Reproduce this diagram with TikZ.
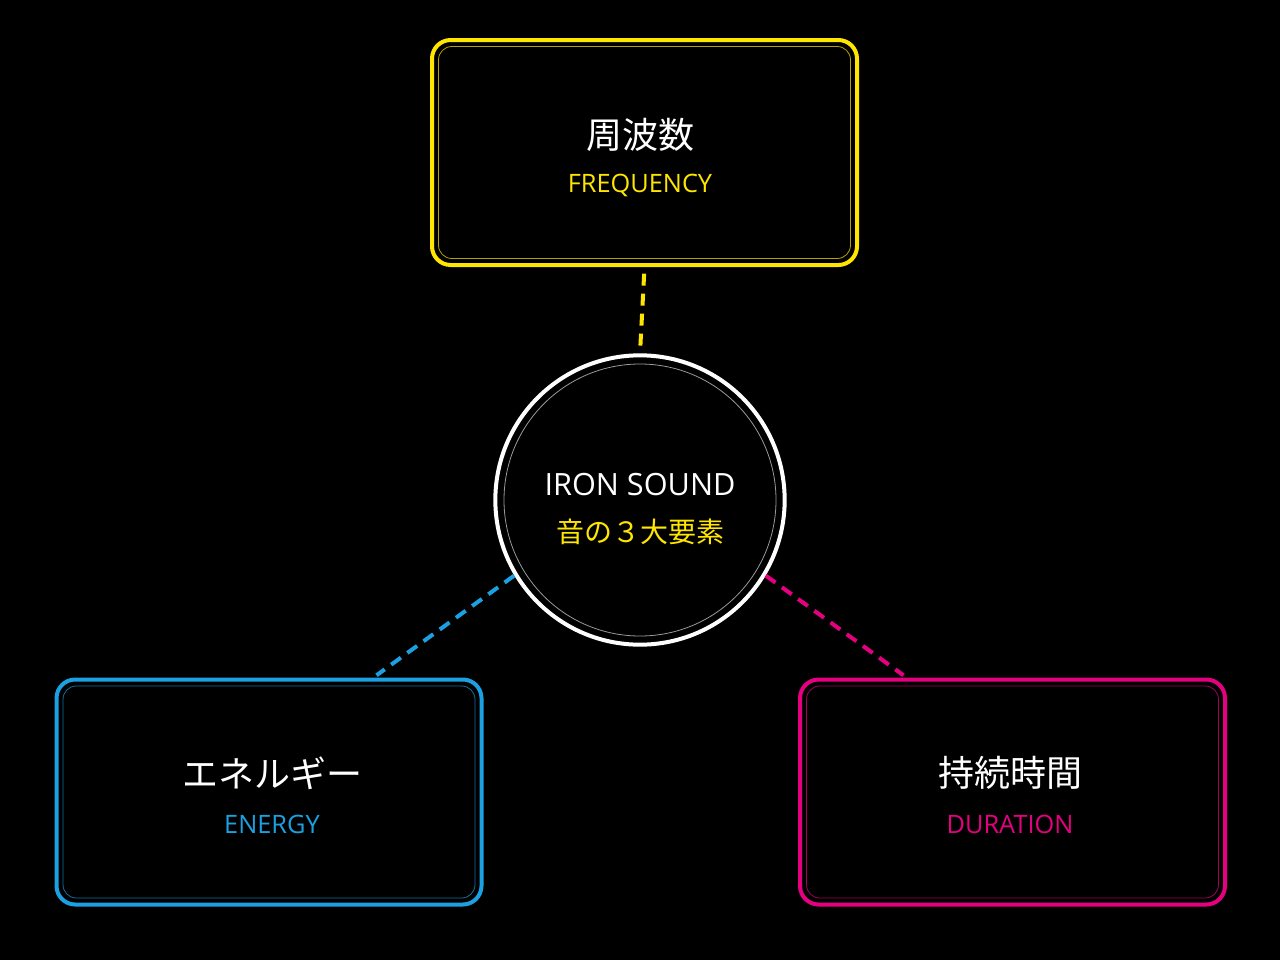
\documentclass[tikz,border=0pt]{standalone}
\usepackage{fontspec}
\setmainfont{Open Sans}
\newfontfamily\cjk{Noto Sans CJK JP}
\definecolor{cy}{HTML}{FFE600}
\definecolor{cb}{HTML}{1BA1E2}
\definecolor{cp}{HTML}{E4007F}
\begin{document}
\begin{tikzpicture}[x=0.75pt,y=-0.75pt,
 box/.style={draw=#1,line width=3pt,rounded corners=14pt,minimum width=318.75pt,minimum height=168.75pt,inner sep=0pt},
 inbox/.style={draw=#1!70!black,line width=0.6pt,rounded corners=10pt,minimum width=309pt,minimum height=159pt},
 dash/.style={draw=#1,line width=3pt,dash pattern=on 9pt off 6pt},
 jp/.style={font=\cjk\fontsize{27}{30}\selectfont,text=white},
 en/.style={font=\fontsize{19}{22}\selectfont,text=#1}]
\fill (0,0) rectangle (1280,960);
\useasboundingbox (0,0) rectangle (1280,960);
% top
\node[box=cy] (t) at (644.5,152.5) {};
\node[inbox=cy] at (t) {};
\node[jp] (tj) at (640,135) {周波数};
\node[en=cy] (te) at (640,185) {FREQUENCY};
% left
\node[box=cb] (l) at (269,792) {};
\node[inbox=cb] at (l) {};
\node[jp] (lj) at (272,773) {エネルギー};
\node[en=cb] (le) at (272,824) {ENERGY};
% right
\node[box=cp] (r) at (1012.5,792) {};
\node[inbox=cp] at (r) {};
\node[jp] (rj) at (1010,773) {持続時間};
\node[en=cp] (re) at (1010,824) {DURATION};
% circle
\node[circle,draw=white,line width=3pt,minimum size=217pt] (c) at (640,500) {};
\node[circle,draw=white!60!black,line width=0.6pt,minimum size=204pt] at (c) {};
\node[font=\fontsize{23}{26}\selectfont,text=white] (ce) at (640,485) {IRON SOUND};
\node[font=\cjk\fontsize{21}{24}\selectfont,text=cy] (cj) at (640,532) {音の３大要素};
% connectors
\coordinate (lt) at (370,680);
\coordinate (rt) at (910,680);
\draw[dash=cy,shorten <=5pt,shorten >=5pt] (t.south) -- (c.north);
\draw[dash=cb,shorten >=6pt] (c.211) -- (lt);
\draw[dash=cp,shorten >=6pt] (c.329) -- (rt);
\end{tikzpicture}
\end{document}
